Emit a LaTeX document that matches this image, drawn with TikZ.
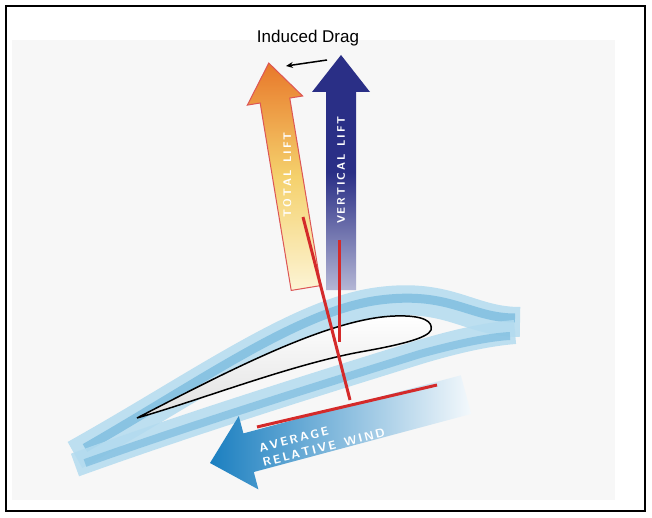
\documentclass[tikz,border=0pt]{standalone}
\usepackage{fontspec}
\setmainfont{Liberation Sans}
\usetikzlibrary{arrows.meta}
\definecolor{flowlight}{HTML}{B3DBEF}
\definecolor{flowmid}{HTML}{7CBCDF}
\definecolor{navy}{HTML}{2A2F86}
\definecolor{org}{HTML}{E8782A}
\definecolor{yel}{HTML}{F6DB74}
\definecolor{rd}{HTML}{D42A2A}
\definecolor{wind}{HTML}{1B7FC0}
\begin{document}
\begin{tikzpicture}[x=1pt,y=-1pt,
  redline/.style={rd,line width=3pt},
  arrlbl/.style={text=white,font=\bfseries\sffamily\fontsize{11}{12}\selectfont},
  band/.style={line width=#1}]
\useasboundingbox (0,0) rectangle (652,518);
\fill[white] (0,0) rectangle (652,518);
\fill[black!3] (12,40) rectangle (615,500);
\draw[line width=2pt] (6,6) rectangle (645,511);
% flow bands
\draw[band=30pt,flowlight,opacity=.85] (75,455) .. controls (200,385) and (300,312) .. (380,302) .. controls (450,293) and (470,322) .. (520,322);
\draw[band=9pt,flowmid,opacity=.8] (85,448) .. controls (200,382) and (300,310) .. (380,300) .. controls (450,291) and (470,318) .. (515,318);
\draw[band=24pt,flowlight,opacity=.85] (75,465) .. controls (200,420) and (330,380) .. (420,352) .. controls (460,340) and (490,334) .. (515,332);
\draw[band=8pt,flowmid,opacity=.7] (85,463) .. controls (200,422) and (330,382) .. (420,354) .. controls (460,343) and (490,337) .. (510,336);
% airfoil
\shade[top color=white,bottom color=black!12,draw=black,line width=1.5pt]
  (137,418) .. controls (230,370) and (330,318) .. (395,316)
  .. controls (425,315) and (433,322) .. (431,330)
  .. controls (428,338) and (400,345) .. (360,352)
  .. controls (290,365) and (200,400) .. (137,418) -- cycle;
% wind arrow
\shade[left color=wind,right color=wind!5]
  (210,463) -- (258.4,489.4) -- (253.8,472.0) -- (471.2,413.9) -- (460.8,375.3) -- (243.4,433.4) -- (238.8,416.0) -- cycle;
\node[arrlbl,rotate=14,align=left,font=\bfseries\sffamily\fontsize{12}{15}\selectfont] (wtxt) at (322,440) {A\,V\,E\,R\,A\,G\,E\\R\,E\,L\,A\,T\,I\,V\,E\ \ W\,I\,N\,D};
% total lift arrow
\begin{scope}[shift={(306,288)},rotate=9.4]
\shade[top color=org,bottom color=yel!30,middle color=yel!90!org,draw=rd!80,line width=1pt]
  (-15,0) -- (-15,-190) -- (-28,-190) -- (0,-228) -- (28,-190) -- (15,-190) -- (15,0) -- cycle;
\node[arrlbl,rotate=90] (tl) at (0,-115) {T\,O\,T\,A\,L\ \ L\,I\,F\,T};
\end{scope}
% vertical lift arrow
\begin{scope}[shift={(341,290)}]
\shade[top color=navy,bottom color=navy!35,middle color=navy]
  (-15,0) -- (-15,-198) -- (-29,-198) -- (0,-235) -- (29,-198) -- (15,-198) -- (15,0) -- cycle;
\node[arrlbl,rotate=90] (vl) at (0,-120) {V\,E\,R\,T\,I\,C\,A\,L\ \ L\,I\,F\,T};
\end{scope}
% red lines
\coordinate (t1) at (303,217);
\coordinate (t2) at (350,400);
\coordinate (v1) at (339,240);
\coordinate (v2) at (339,342);
\coordinate (w1) at (257,427);
\coordinate (w2) at (437,385);
\draw[redline] (t1) -- (t2);
\draw[redline] (v1) -- (v2);
\draw[redline] (w1) -- (w2);
% induced drag
\node[font=\fontsize{17}{18}\selectfont] (id) at (308,38) {Induced Drag};
\coordinate (d1) at (327,60);
\coordinate (d2) at (286,66);
\draw[line width=1.5pt,-{Stealth[length=7pt,width=6pt]}] (d1) -- (d2);
\end{tikzpicture}
\end{document}
